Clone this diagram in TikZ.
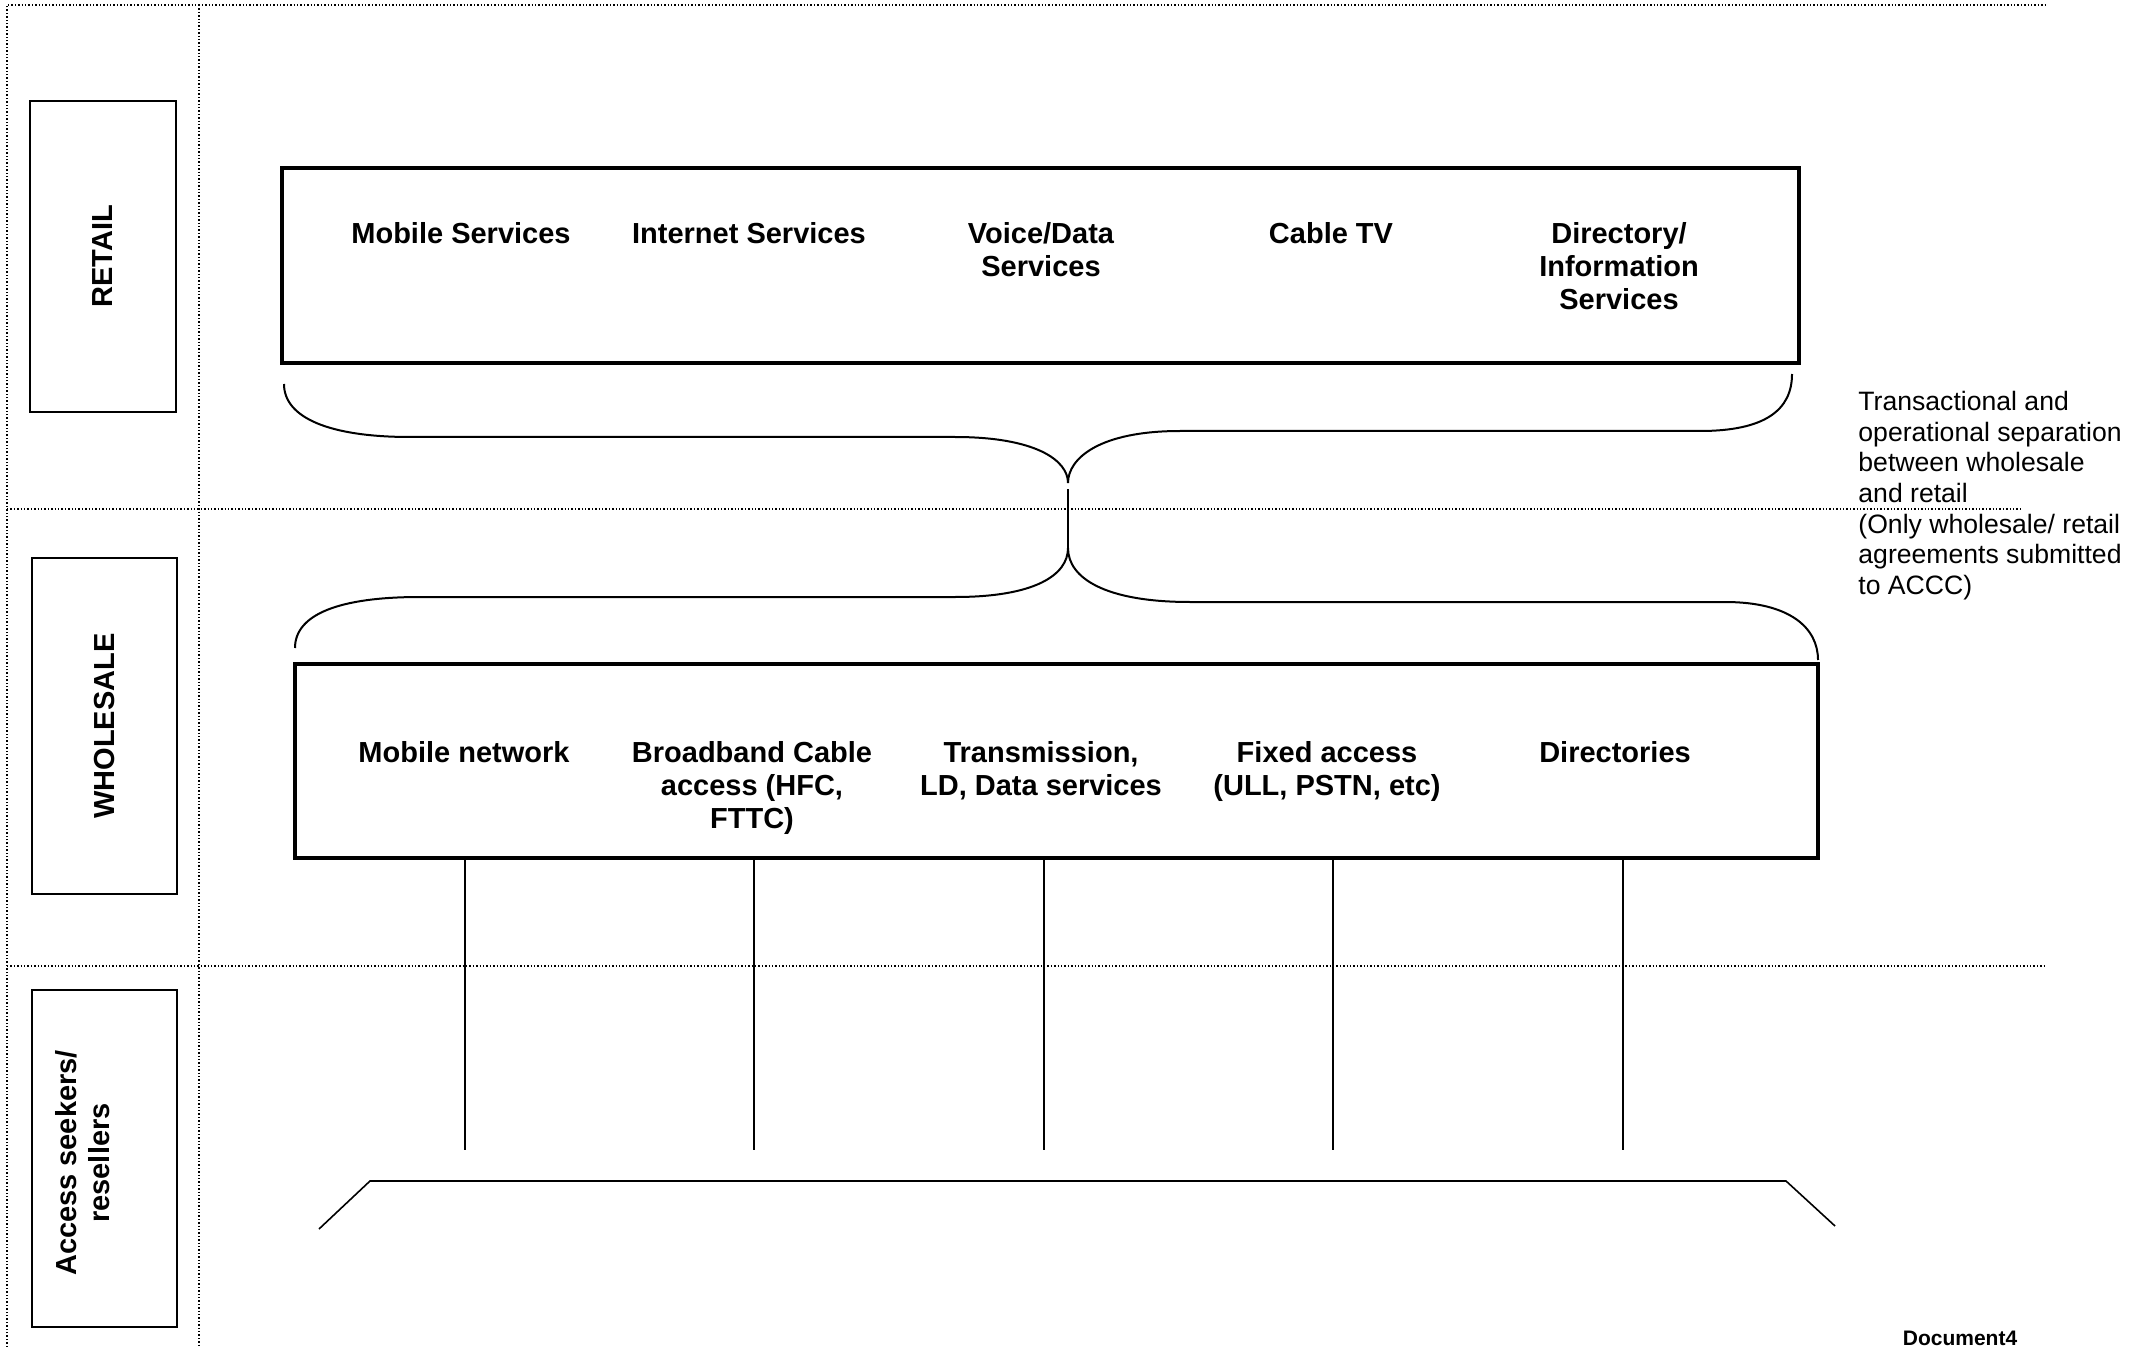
\documentclass[tikz,border=0pt]{standalone}
\usepackage{fontspec}
\setmainfont{Liberation Sans}
\usetikzlibrary{positioning,fit}
\tikzset{
  sidebox/.style={draw, line width=1pt, inner sep=0pt},
  mainbox/.style={draw, line width=1.7pt, inner sep=0pt},
  sidetext/.style={rotate=90, inner sep=0pt, align=center, font=\bfseries\fontsize{14.5}{16.5}\selectfont},
  item/.style={anchor=north, inner sep=0pt, align=center, font=\bfseries\fontsize{14.5}{16.5}\selectfont},
  note/.style={anchor=north west, inner sep=0pt, align=left, font=\fontsize{13.3}{15.3}\selectfont},
  zone/.style={densely dotted, line width=0.7pt},
  brace/.style={line width=1pt},
  link/.style={line width=0.8pt}
}
\begin{document}
\begin{tikzpicture}[x=0.5pt,y=-0.5pt]
\useasboundingbox (0,0) rectangle (2139,1347);
% zones
\draw[zone] (7,1347) -- (7,5) -- (2046,5);
\draw[zone] (199,5) -- (199,1347);
\draw[zone] (7,509) -- (2020,509);
\draw[zone] (7,966) -- (2046,966);
% side labels
\node (retail) [sidebox, fit={(30,101) (176,412)}] {};
\node (retailtxt) [sidetext] at (retail.center) {RETAIL};
\node (wholesale) [sidebox, fit={(32,558) (177,894)}] {};
\node (wholesaletxt) [sidetext] at (wholesale.center) {WHOLESALE};
\node (access) [sidebox, fit={(32,990) (177,1327)}] {};
\node (accesstxt) [sidetext] at (83,1163) {Access seekers/\\resellers};
% retail
\node (rbox) [mainbox, fit={(282,168) (1799,363)}] {};
\node (r1) [item] at (461,222) {Mobile Services};
\node (r2) [item] at (749,222) {Internet Services};
\node (r3) [item] at (1041,222) {Voice/Data\\Services};
\node (r4) [item] at (1331,222) {Cable TV};
\node (r5) [item] at (1619,222) {Directory/\\Information\\Services};
% wholesale
\node (wbox) [mainbox, fit={(295,664) (1818,858)}] {};
\node (w1) [item] at (464,741) {Mobile network};
\node (w2) [item] at (752,741) {Broadband Cable\\access (HFC,\\FTTC)};
\node (w3) [item] at (1041,741) {Transmission,\\LD, Data services};
\node (w4) [item] at (1327,741) {Fixed access\\(ULL, PSTN, etc)};
\node (w5) [item] at (1615,741) {Directories};
% braces
\coordinate (utip) at (1068,483);
\coordinate (ltip) at (1068,548);
\draw[brace] (284,384) .. controls (284,418) and (330,437) .. (410,437) -- (955,437)
  .. controls (1035,437) and (1068,460) .. (utip)
  .. controls (1068,458) and (1100,431) .. (1180,431) -- (1700,431)
  .. controls (1765,431) and (1792,410) .. (1792,374);
\draw[brace] ([yshift=-3pt]utip) -- (ltip);
\draw[brace] (295,648) .. controls (295,614) and (340,597) .. (420,597) -- (955,597)
  .. controls (1035,597) and (1068,575) .. (ltip)
  .. controls (1068,578) and (1105,602) .. (1190,602) -- (1725,602)
  .. controls (1790,602) and (1818,628) .. (1818,660);
\node (sep) [note] at (1858,391) {Transactional and\\operational separation\\between wholesale\\and retail\\(Only wholesale/ retail\\agreements submitted\\to ACCC)};
% access lines
\coordinate (b1) at (465,1150);
\coordinate (b2) at (754,1150);
\coordinate (b3) at (1044,1150);
\coordinate (b4) at (1333,1150);
\coordinate (b5) at (1623,1150);
\foreach \i in {1,...,5}
  \draw[link] (wbox.south -| b\i) -- (b\i);
\coordinate (tl) at (319,1229);
\coordinate (tl2) at (370,1181);
\coordinate (tr2) at (1786,1181);
\coordinate (tr) at (1835,1226);
\draw[link] (tl) -- (tl2) -- (tr2) -- (tr);
\node (docname) [anchor=north, inner sep=0pt, font=\bfseries\fontsize{10.5}{12}\selectfont] at (1960,1331) {Document4};
\end{tikzpicture}
\end{document}
